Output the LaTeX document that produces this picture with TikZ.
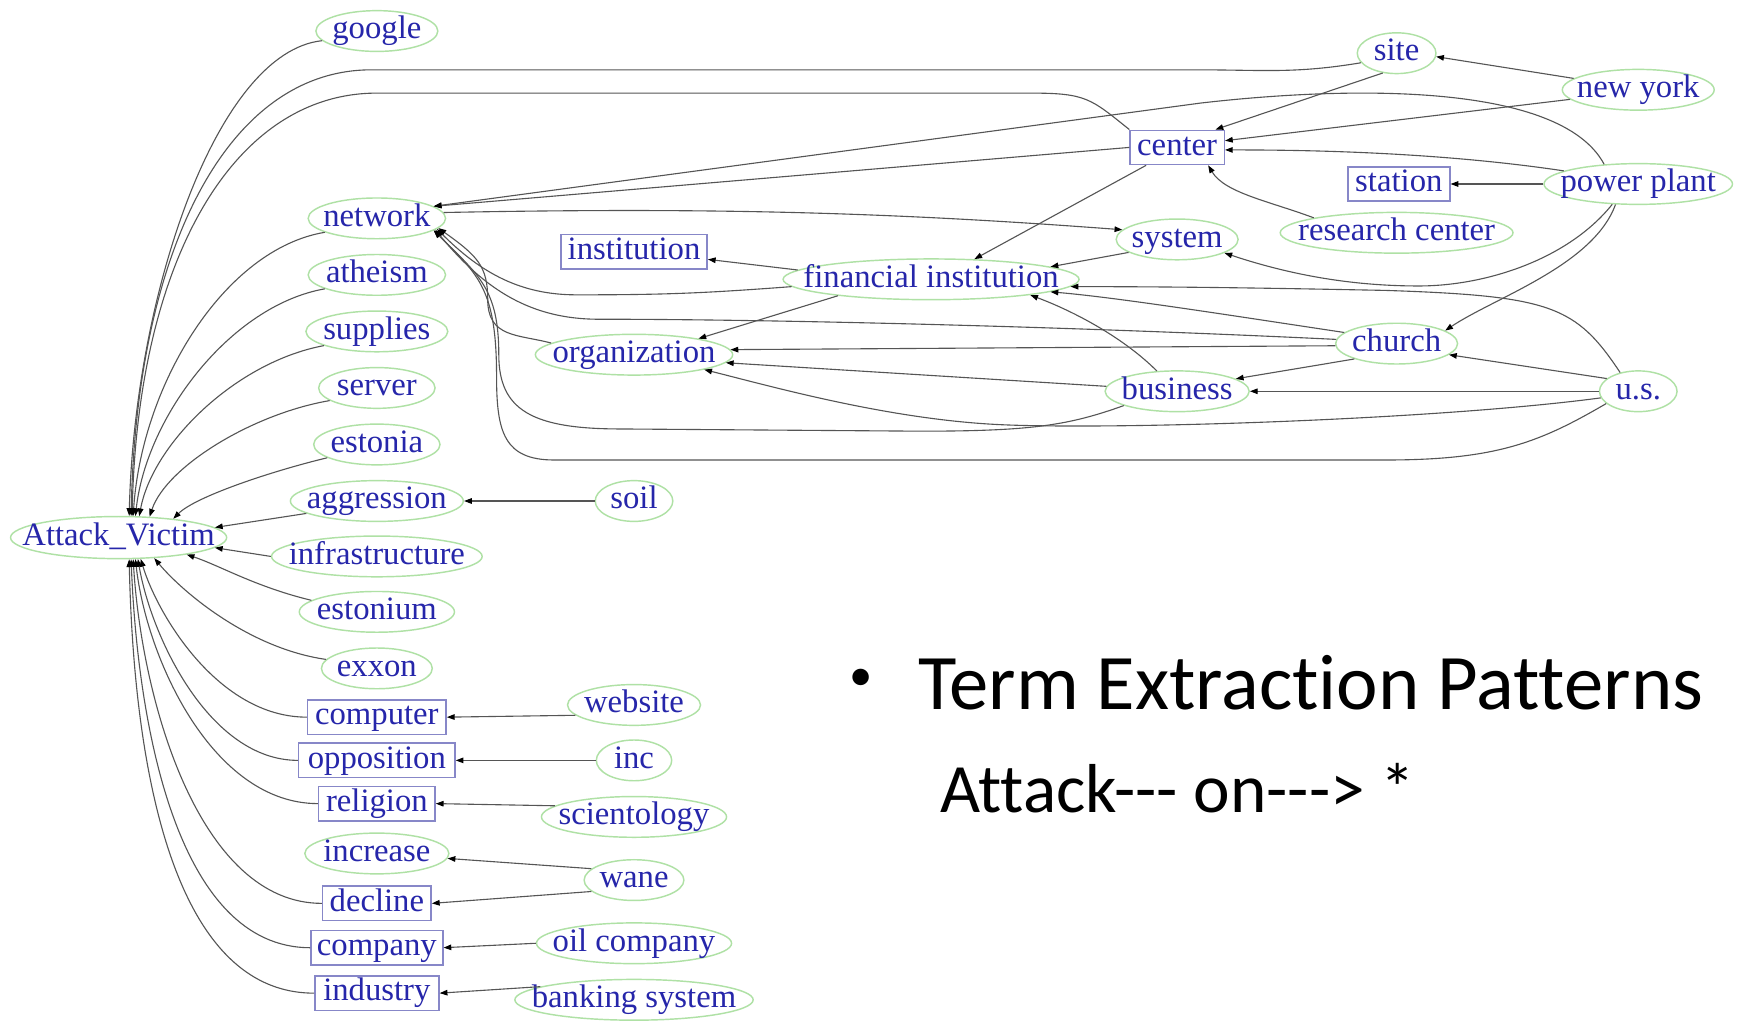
\documentclass[tikz,border=0pt]{standalone}
\usepackage{fontspec}
\setmainfont{Liberation Serif}
\newfontfamily\slidefont[Ligatures={TeXOff,NoCommon}]{Carlito}
\usetikzlibrary{shapes.geometric,arrows.meta}
\definecolor{lbl}{RGB}{38,38,170}
\definecolor{ovline}{RGB}{175,225,165}
\definecolor{bxline}{RGB}{135,135,200}
\definecolor{edgec}{RGB}{85,85,85}
% zero-width label so the ellipse width comes from minimum width only
\newcommand\ctxt[1]{\makebox[0pt]{#1}}

\begin{document}
\begin{tikzpicture}[x=1pt,y=-1pt,
  gfont/.style={font=\fontsize{29.5}{30}\selectfont},
  ov/.style={ellipse, draw=ovline, line width=1.3pt, minimum width=#1, minimum height=36pt,
    inner sep=0pt, text height=20pt, text depth=6pt, text=lbl, gfont},
  bx/.style={rectangle, draw=bxline, line width=1.3pt, minimum width=#1, minimum height=31pt,
    inner sep=0pt, text height=20pt, text depth=6pt, text=lbl, gfont},
  ed/.style={draw=edgec, line width=1pt, -{Triangle[length=7pt,width=5pt,color=black]}},
  slide/.style={anchor=base west, inner sep=0pt, text=black}]

\fill[white] (0,0) rectangle (1568,923);
\useasboundingbox (0,0) rectangle (1568,923);

% ---- nodes ----
\node[ov=110] (google) at (340,28) {\ctxt{google}};
\node[ov=71] (site) at (1260,48) {\ctxt{site}};
\node[ov=137] (newyork) at (1478,81) {\ctxt{new york}};
\node[bx=85] (center) at (1062,133) {\ctxt{center}};
\node[bx=92] (station) at (1262,166) {\ctxt{station}};
\node[ov=170] (powerplant) at (1478,166) {\ctxt{power plant}};
\node[ov=124] (network) at (340,197) {\ctxt{network}};
\node[bx=132] (institution) at (572,227) {\ctxt{institution}};
\node[ov=110] (system) at (1062,216) {\ctxt{system}};
\node[ov=210] (researchcenter) at (1260,210) {\ctxt{research center}};
\node[ov=267] (fi) at (840,252) {\ctxt{financial institution}};
\node[ov=124] (atheism) at (340,248) {\ctxt{atheism}};
\node[ov=128] (supplies) at (340,299) {\ctxt{supplies}};
\node[ov=178] (organization) at (572,320) {\ctxt{organization}};
\node[ov=110] (church) at (1260,310) {\ctxt{church}};
\node[ov=130] (business) at (1062,353) {\ctxt{business}};
\node[ov=70] (us) at (1478,353) {\ctxt{u.s.}};
\node[ov=105] (server) at (340,350) {\ctxt{server}};
\node[ov=114] (estonia) at (340,401) {\ctxt{estonia}};
\node[ov=156] (aggression) at (340,452) {\ctxt{aggression}};
\node[ov=70] (soil) at (572,452) {\ctxt{soil}};
\node[ov=195, minimum height=38pt] (AV) at (107,485) {\ctxt{Attack\_Victim}};
\node[ov=190] (infrastructure) at (340,502) {\ctxt{infrastructure}};
\node[ov=140] (estonium) at (340,552) {\ctxt{estonium}};
\node[ov=100] (exxon) at (340,603) {\ctxt{exxon}};
\node[bx=125] (computer) at (340,647) {\ctxt{computer}};
\node[ov=120] (website) at (572,636) {\ctxt{website}};
\node[bx=141] (opposition) at (340,686) {\ctxt{opposition}};
\node[ov=68] (inc) at (572,686) {\ctxt{inc}};
\node[bx=105] (religion) at (340,725) {\ctxt{religion}};
\node[ov=167] (scientology) at (572,737) {\ctxt{scientology}};
\node[ov=130] (increase) at (340,770) {\ctxt{increase}};
\node[ov=90] (wane) at (572,794) {\ctxt{wane}};
\node[bx=98] (decline) at (340,815) {\ctxt{decline}};
\node[bx=119] (company) at (340,855) {\ctxt{company}};
\node[ov=176] (oilcompany) at (572,851) {\ctxt{oil company}};
\node[bx=112] (industry) at (340,896) {\ctxt{industry}};
\node[ov=215] (banking) at (572,902) {\ctxt{banking system}};

% ---- edges into Attack_Victim ----
\draw[ed] (google.190) .. controls +(-95,10) and +(5,-200) .. (AV.64);
\draw[ed] (site.195) .. controls +(-60,10) and +(60,0) .. (1080,63) -- (335,63)
  .. controls +(-130,0) and +(5,-240) .. (AV.60);
\draw[ed] (center.north west) .. controls +(-35,-28) and +(50,0) .. (930,84) -- (340,84)
  .. controls +(-130,0) and +(5,-230) .. (AV.58);
\draw[ed] (network.195) .. controls +(-90,15) and +(8,-120) .. (AV.56);
\draw[ed] (atheism.195) .. controls +(-85,15) and +(10,-90) .. (AV.52);
\draw[ed] (supplies.195) .. controls +(-80,15) and +(12,-65) .. (AV.46);
\draw[ed] (server.195) .. controls +(-70,12) and +(15,-45) .. (AV.34);
\draw[ed] (estonia.195) .. controls +(-50,12) and +(20,-20) .. (AV.19);
\draw[ed] (aggression.190) -- (AV.6);
\draw[ed] (infrastructure.west) -- (AV.-6);
\draw[ed] (estonium.170) .. controls +(-50,-12) and +(30,10) .. (AV.-14);
\draw[ed] (exxon.170) .. controls +(-70,-10) and +(25,30) .. (AV.-30);
\draw[ed] (computer.west) .. controls +(-80,0) and +(15,50) .. (AV.-44);
\draw[ed] (opposition.west) .. controls +(-80,0) and +(12,70) .. (AV.-48);
\draw[ed] (religion.west) .. controls +(-95,0) and +(10,90) .. (AV.-52);
\draw[ed] (decline.west) .. controls +(-110,0) and +(8,130) .. (AV.-56);
\draw[ed] (company.west) .. controls +(-120,0) and +(6,150) .. (AV.-60);
\draw[ed] (industry.west) .. controls +(-130,0) and +(4,180) .. (AV.-64);

% ---- short edges on the lower left ----
\draw[ed] (soil.west) -- (aggression.east);
\draw[ed] (website.190) -- (computer.east);
\draw[ed] (inc.west) -- (opposition.east);
\draw[ed] (scientology.172) -- (religion.east);
\draw[ed] (wane.165) -- (increase.-4);
\draw[ed] (wane.195) -- (decline.east);
\draw[ed] (oilcompany.west) -- (company.east);
\draw[ed] (banking.172) -- (industry.east);

% ---- upper graph ----
\draw[ed] (newyork.170) -- (site.-5);
\draw[ed] (site.235) -- (center.25);
\draw[ed] (newyork.188) -- (center.8);
\draw[ed] (powerplant.170) .. controls +(-120,-18) and +(60,0) .. (center.-3);
\draw[ed] (researchcenter.north west) .. controls +(-40,-15) and +(15,25) .. (center.-30);
\draw[ed] (powerplant.west) -- (station.east);
\draw[ed] (center.west) -- (network.12);
\draw[ed] (powerplant.150) .. controls +(-40,-75) and +(130,-15) .. (1083,93) -- (network.12);
\draw[ed] (network.5) .. controls +(250,-5) and +(-200,-15) .. (system.170);
\draw[ed] (system.195) -- (fi.6);
\draw[ed] (center.210) -- (fi.25);
\draw[ed] (fi.176) -- (institution.-6);
\draw[ed] (fi.190) -- (organization.14);
\draw[ed] (fi.183) .. controls +(-80,6) and +(80,0) .. (520,266)
  .. controls +(-50,0) and +(40,40) .. (network.-10);
\draw[ed] (church.176) .. controls +(-250,-12) and +(150,0) .. (540,288)
  .. controls +(-60,0) and +(45,55) .. (network.-11);
\draw[ed] (organization.172) .. controls +(-30,-8) and +(0,35) .. (440,270)
  .. controls +(0,-30) and +(35,25) .. (network.-9);
\draw[ed] (business.195) .. controls +(-50,18) and +(100,0) .. (830,389) -- (560,387)
  .. controls +(-80,0) and +(0,50) .. (450,320) .. controls +(0,-60) and +(40,40) .. (network.-12);
\draw[ed] (us.201) .. controls +(-60,35) and +(100,0) .. (1250,415) -- (500,415)
  .. controls +(-45,0) and +(0,50) .. (448,340) .. controls +(0,-80) and +(40,40) .. (network.-12);
\draw[ed] (us.190) .. controls +(-150,20) and +(100,5) .. (900,383)
  .. controls +(-100,-5) and +(60,15) .. (organization.-12);
\draw[ed] (us.west) -- (business.east);
\draw[ed] (us.158) -- (church.-12);
\draw[ed] (us.134) .. controls +(-40,-60) and +(150,5) .. (1250,262)
  .. controls +(-100,-2) and +(100,0) .. (fi.-3);
\draw[ed] (church.168) .. controls +(-100,-15) and +(60,5) .. (fi.-6);
\draw[ed] (church.182) -- (organization.3);
\draw[ed] (business.176) -- (organization.-5);
\draw[ed] (business.135) .. controls +(-30,-30) and +(40,15) .. (fi.-9);
\draw[ed] (church.200) -- (business.12);
\draw[ed] (powerplant.218) .. controls +(-40,50) and +(60,0) .. (1280,258)
  .. controls +(-60,0) and +(60,20) .. (system.-16);
\draw[ed] (powerplant.222) .. controls +(-20,55) and +(45,-30) .. (church.15);

% ---- slide text ----
\node[anchor=center, inner sep=0pt, font=\slidefont\fontsize{42}{44}\selectfont] (bullet) at (777,613) {•};
\node[slide, font=\slidefont\fontsize{71}{73}\selectfont] (heading) at (828,640) {Term Extraction Patterns};
\node[slide, font=\slidefont\fontsize{62.5}{64}\selectfont] (pattern) at (848,733) {Attack--- on---> *};
\end{tikzpicture}
\end{document}
